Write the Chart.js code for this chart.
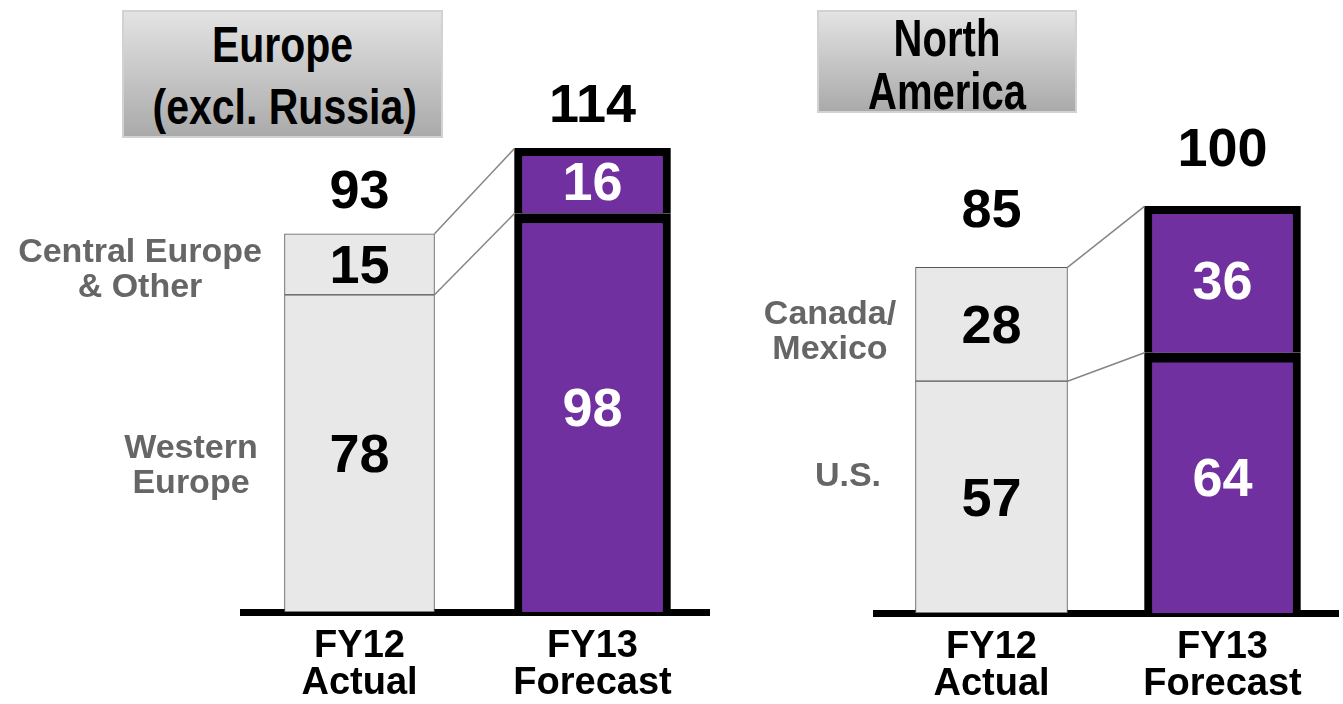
<!DOCTYPE html>
<html>
<head>
<meta charset="utf-8">
<script src="https://cdn.jsdelivr.net/npm/chart.js@4.4.4/dist/chart.umd.min.js"></script>
<style>
  html, body { margin: 0; padding: 0; background: #fff; width: 1343px; height: 704px; overflow: hidden; }
  canvas { position: absolute; top: 0; }
  #chart-eu { left: 0; }
  #chart-na { left: 720px; }
  .title-box {
    position: absolute; top: 10px; box-sizing: border-box;
    background: linear-gradient(#e3e3e3, #aaaaaa);
    border: 2px solid #d2d2d2;
    font-family: "Liberation Sans", Arial, sans-serif;
    font-weight: bold; color: #000; text-align: center;
  }
  .title-box .line { position: absolute; left: 0; right: 0; height: 0; line-height: 0; white-space: nowrap; }
  #title-eu { left: 122px; width: 321px; height: 128px; font-size: 50px; }
  #title-eu .line { transform: scaleX(0.82); }
  #title-na { left: 817px; width: 260px; height: 103px; font-size: 52px; }
  #title-na .line { transform: scaleX(0.77); }
</style>
</head>
<body>
<canvas id="chart-eu" width="720" height="704"></canvas>
<canvas id="chart-na" width="623" height="704"></canvas>
<div class="title-box" id="title-eu"><div class="line" style="top:33px">Europe</div><div class="line" style="top:95px">(excl. Russia)</div></div>
<div class="title-box" id="title-na"><div class="line" style="top:26px">North</div><div class="line" style="top:79px">America</div></div>

<script>
/* ── Data ─────────────────────────────────────────────────────────── */
const CATEGORIES = [["FY12", "Actual"], ["FY13", "Forecast"]];

const EU_SEGMENTS = [["Western", "Europe"], ["Central Europe", "& Other"]];
const EU_LOWER = [78, 98];
const EU_UPPER = [15, 16];

const NA_SEGMENTS = [["U.S."], ["Canada/", "Mexico"]];
const NA_LOWER = [57, 64];
const NA_UPPER = [28, 36];

const Y_MAX = 150;

/* ── Styles ───────────────────────────────────────────────────────── */
const FONT = "'Liberation Sans', Arial, sans-serif";
const ACTUAL_BAR   = { fill: "#e8e8e8", stroke: "#595959", text: "#000" };
const FORECAST_BAR = { fill: "#7030a0", stroke: "#000",    text: "#fff" };

function barBorder(cat, seg) {
  if (cat === 0) return { top: 1, left: 1, right: 1, bottom: 1 };
  return { top: seg === 0 ? 10 : 8, left: 8, right: 8, bottom: 0 };
}

function buildDatasets(lower, upper, thickness) {
  const sets = [];
  [lower, upper].forEach((vals, seg) => {
    vals.forEach((v, cat) => {
      const look = cat === 0 ? ACTUAL_BAR : FORECAST_BAR;
      sets.push({
        data: vals.map((_, j) => (j === cat ? v : null)),
        seg, cat,
        stack: "total",
        backgroundColor: look.fill,
        borderColor: look.stroke,
        borderWidth: barBorder(cat, seg),
        borderSkipped: false,
        barThickness: thickness[cat]
      });
    });
  });
  return sets;
}

/* ── Labels, totals and connector lines ───────────────────────────── */
const annotate = {
  id: "annotate",
  afterDatasetsDraw(chart, args, opts) {
    const { ctx } = chart;
    const y = chart.scales.y;
    const el = (seg, cat) => {
      const idx = chart.data.datasets.findIndex(d => d.seg === seg && d.cat === cat);
      return chart.getDatasetMeta(idx).data[cat];
    };
    ctx.save();

    // connectors between the two bars
    ctx.strokeStyle = "#858585";
    ctx.lineWidth = 1.5;
    [0, 1].forEach(seg => {
      const a = el(seg, 0), b = el(seg, 1);
      ctx.beginPath();
      ctx.moveTo(a.x + a.width / 2, a.y);
      ctx.lineTo(b.x - b.width / 2, b.y);
      ctx.stroke();
    });

    // segment values
    ctx.textAlign = "center";
    ctx.textBaseline = "alphabetic";
    ctx.font = `bold 54px ${FONT}`;
    chart.data.datasets.forEach(ds => {
      const bar = el(ds.seg, ds.cat);
      const value = ds.data[ds.cat];
      ctx.fillStyle = ds.cat === 0 ? ACTUAL_BAR.text : FORECAST_BAR.text;
      const shift = ds.cat === 1 && ds.seg === 0 ? -6 : 0;
      ctx.fillText(String(value), bar.x, (bar.y + bar.base) / 2 + 19 + shift);
    });

    // totals above the bars
    ctx.fillStyle = "#000";
    opts.lower.forEach((v, cat) => {
      const total = v + opts.upper[cat];
      ctx.fillText(String(total), el(1, cat).x, y.getPixelForValue(total) - opts.totalGap);
    });

    // segment names beside the first bar
    ctx.fillStyle = "#666";
    ctx.font = `bold 34px ${FONT}`;
    opts.segments.forEach((lines, seg) => {
      const bar = el(seg, 0);
      const mid = (bar.y + bar.base) / 2 + opts.nameDy[seg];
      const top = mid - (lines.length - 1) * 35 / 2 + 12;
      lines.forEach((t, k) => ctx.fillText(t, opts.nameX[seg], top + k * 35));
    });
    ctx.restore();
  }
};

function makeChart(id, cfg) {
  return new Chart(document.getElementById(id), {
    type: "bar",
    data: { labels: CATEGORIES, datasets: buildDatasets(cfg.lower, cfg.upper, cfg.thickness) },
    plugins: [annotate],
    options: {
      responsive: false,
      animation: false,
      events: [],
      layout: { padding: { left: cfg.left, right: cfg.right, top: cfg.top, bottom: 0 } },
      plugins: {
        legend: { display: false },
        tooltip: { enabled: false },
        annotate: {
          lower: cfg.lower, upper: cfg.upper, segments: cfg.segments,
          totalGap: cfg.totalGap, nameX: cfg.nameX, nameDy: cfg.nameDy
        }
      },
      scales: {
        x: {
          stacked: true,
          grid: { display: false, drawTicks: false },
          border: { display: true, color: "#000", width: 7 },
          ticks: { color: "#000", padding: 16, maxRotation: 0, autoSkip: false,
                   font: { family: FONT, size: 38, weight: "bold", lineHeight: 0.97 } },
          afterFit: s => { s.height = 704 - cfg.baseline; }
        },
        y: { stacked: true, display: false, min: 0, max: Y_MAX }
      }
    }
  });
}

makeChart("chart-eu", {
  lower: EU_LOWER, upper: EU_UPPER, segments: EU_SEGMENTS,
  thickness: [150, 156], left: 243, right: 11, top: 2, baseline: 612,
  totalGap: 26, nameX: [191, 140], nameDy: [10, 3]
});

makeChart("chart-na", {
  lower: NA_LOWER, upper: NA_UPPER, segments: NA_SEGMENTS,
  thickness: [152, 156], left: 156, right: 5, top: 3, baseline: 613,
  totalGap: 40, nameX: [128, 110], nameDy: [-23, 5]
});
</script>
</body>
</html>
